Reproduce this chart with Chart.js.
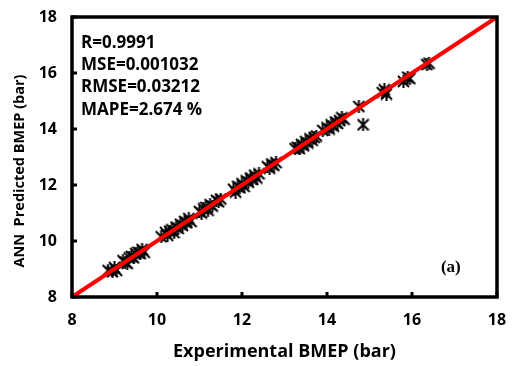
<!DOCTYPE html>
<html>
<head>
<meta charset="utf-8">
<script src="https://cdn.jsdelivr.net/npm/chart.js@4.4.0/dist/chart.umd.js"></script>
<style>
  html, body { margin: 0; padding: 0; background: #fff; }
  #wrap { width: 516px; height: 366px; position: relative; }
</style>
</head>
<body>
<div id="wrap"><canvas id="bmepChart" width="516" height="366"></canvas></div>
<script>
// experimental vs ANN predicted BMEP (bar)
const experimental = [
  8.85, 8.95, 9.0, 9.05, 9.2, 9.25, 9.3, 9.35, 9.4, 9.45, 9.5, 9.55, 9.6, 9.65, 9.7,
  10.1, 10.2, 10.25, 10.3, 10.35, 10.4, 10.45, 10.5, 10.55, 10.6, 10.65, 10.7, 10.75, 10.8,
  11.0, 11.05, 11.1, 11.15, 11.2, 11.25, 11.3, 11.4, 11.45, 11.5,
  11.8, 11.85, 11.9, 11.95, 12.0, 12.05, 12.1, 12.15, 12.2, 12.25, 12.3, 12.35, 12.4,
  12.6, 12.65, 12.7, 12.75, 12.8,
  13.25, 13.3, 13.35, 13.4, 13.45, 13.5, 13.55, 13.6, 13.65, 13.7, 13.75,
  13.9, 14.0, 14.05, 14.1, 14.15, 14.2, 14.25, 14.3, 14.35, 14.4,
  14.75, 14.85,
  15.3, 15.35, 15.4,
  15.8, 15.9, 15.95,
  16.35, 16.4
];
const predicted = [
  8.95, 8.9, 9.05, 8.95, 9.3, 9.25, 9.2, 9.4, 9.45, 9.4, 9.55, 9.6, 9.55, 9.7, 9.6,
  10.15, 10.3, 10.2, 10.35, 10.4, 10.3, 10.5, 10.45, 10.6, 10.55, 10.7, 10.65, 10.8, 10.7,
  11.05, 11.0, 11.15, 11.2, 11.1, 11.3, 11.25, 11.45, 11.4, 11.5,
  11.85, 11.75, 11.95, 11.9, 12.05, 11.95, 12.15, 12.1, 12.25, 12.2, 12.35, 12.25, 12.4,
  12.65, 12.6, 12.75, 12.7, 12.8,
  13.3, 13.35, 13.3, 13.45, 13.4, 13.55, 13.5, 13.65, 13.6, 13.7, 13.75,
  13.95, 14.05, 14.0, 14.15, 14.1, 14.25, 14.2, 14.3, 14.4, 14.35,
  14.8, 14.15,
  15.3, 15.4, 15.25,
  15.7, 15.85, 15.8,
  16.3, 16.35
];
const fitLine = [8, 18];
const axisTicks = [8, 10, 12, 14, 16, 18];
const statsText = ["R=0.9991", "MSE=0.001032", "RMSE=0.03212", "MAPE=2.674 %"];
const yTitle = "ANN  Predicted BMEP (bar)";

// asterisk marker: X plus vertical stroke
function makeStar(size) {
  const c = document.createElement("canvas");
  c.width = size; c.height = size;
  const g = c.getContext("2d");
  g.strokeStyle = "#000";
  g.lineWidth = 2;
  const m = size / 2, r = size / 2 - 1;
  g.beginPath();
  g.moveTo(m - r, m - r); g.lineTo(m + r, m + r);
  g.moveTo(m + r, m - r); g.lineTo(m - r, m + r);
  g.moveTo(m, 0); g.lineTo(m, size);
  g.stroke();
  return c;
}

const insideTicks = {
  id: "insideTicks",
  afterDraw(chart) {
    const ctx = chart.ctx, a = chart.chartArea;
    const xs = chart.scales.x, ys = chart.scales.y;
    ctx.save();
    ctx.strokeStyle = "#000";
    ctx.lineWidth = 3;
    axisTicks.forEach(v => {
      const px = xs.getPixelForValue(v);
      ctx.beginPath(); ctx.moveTo(px, a.bottom); ctx.lineTo(px, a.bottom - 5); ctx.stroke();
      const py = ys.getPixelForValue(v);
      ctx.beginPath(); ctx.moveTo(a.left, py); ctx.lineTo(a.left + 5, py); ctx.stroke();
    });
    ctx.lineWidth = 3.5;
    ctx.strokeRect(a.left, a.top, a.right - a.left, a.bottom - a.top);
    ctx.fillStyle = "#000";
    ctx.font = "bold 17px 'Open Sans', sans-serif";
    ctx.textBaseline = "middle";
    statsText.forEach((t, i) => ctx.fillText(t, a.left + 9, a.top + 26 + i * 22.3));
    ctx.font = "bold 17px 'Liberation Serif', serif";
    ctx.fillText("(a)", xs.getPixelForValue(16.68), ys.getPixelForValue(9.04));
    // y axis title
    ctx.translate(20, ys.getPixelForValue(12.5));
    ctx.rotate(-Math.PI / 2);
    ctx.textAlign = "center";
    ctx.font = "bold 14.5px 'Open Sans', sans-serif";
    ctx.fillText(yTitle, 0, 0);
    ctx.restore();
  }
};

const pts = experimental.map((x, i) => ({ x: x, y: predicted[i] }));

new Chart(document.getElementById("bmepChart"), {
  type: "scatter",
  data: {
    datasets: [
      {
        type: "line",
        data: fitLine.map(v => ({ x: v, y: v })),
        borderColor: "#ff0000",
        borderWidth: 4,
        pointRadius: 0,
        order: 0
      },
      {
        data: pts,
        pointStyle: makeStar(13),
        pointRadius: 6,
        order: 1
      }
    ]
  },
  options: {
    responsive: false,
    animation: false,
    layout: { padding: { left: 0, right: 19, top: 17, bottom: 0 } },
    plugins: { legend: { display: false }, tooltip: { enabled: false } },
    scales: {
      x: {
        type: "linear",
        min: 8, max: 18,
        afterBuildTicks: s => { s.ticks = axisTicks.map(v => ({ value: v })); },
        afterFit: s => { s.height = 69; s.paddingLeft = 0; s.paddingRight = 0; },
        grid: { display: false, drawTicks: false },
        border: { display: false },
        ticks: { color: "#000", padding: 14, font: { family: "'Open Sans'", size: 16, weight: "bold" } },
        title: { display: true, text: "Experimental BMEP (bar)", color: "#000", padding: { top: 4, bottom: 3 }, font: { family: "'Open Sans'", size: 18, weight: "bold" } }
      },
      y: {
        type: "linear",
        min: 8, max: 18,
        afterBuildTicks: s => { s.ticks = axisTicks.map(v => ({ value: v })); },
        afterFit: s => { s.width = 72; s.paddingTop = 0; s.paddingBottom = 0; },
        grid: { display: false, drawTicks: false },
        border: { display: false },
        ticks: { color: "#000", padding: 15, font: { family: "'Open Sans'", size: 16, weight: "bold" } }
      }
    }
  },
  plugins: [insideTicks]
});
</script>
</body>
</html>
